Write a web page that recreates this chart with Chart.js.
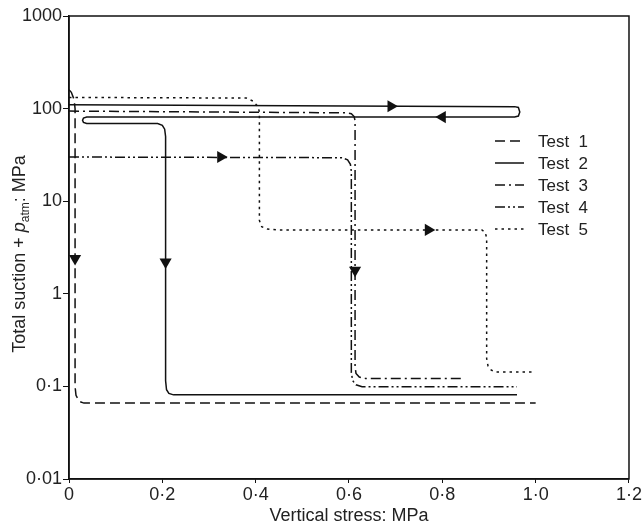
<!DOCTYPE html>
<html>
<head>
<meta charset="utf-8">
<script src="https://cdn.jsdelivr.net/npm/chart.js@4/dist/chart.umd.min.js"></script>
<style>
  body { margin: 0; background: #fff; }
</style>
</head>
<body>
<canvas id="suctionChart" width="643" height="528"></canvas>
<script>
// data
const seriesNames = ["Test  1", "Test  2", "Test  3", "Test  4", "Test  5"];

const t1X = [0, 0.005, 0.011, 0.013, 0.013, 0.015, 0.022, 0.032, 1.0];
const t1Y = [160, 150, 125, 100, 0.1, 0.08, 0.069, 0.066, 0.066];

const t2X = [0, 0.955, 0.963, 0.966, 0.963, 0.955, 0.038, 0.031, 0.029, 0.031, 0.038, 0.19, 0.2, 0.205, 0.207, 0.207, 0.209, 0.214, 0.224, 0.96];
const t2Y = [110, 105, 103, 92, 83, 81, 81, 79, 75, 71, 69, 69, 66, 60, 50, 0.115, 0.092, 0.084, 0.081, 0.081];

const t3X = [0, 0.595, 0.605, 0.611, 0.613, 0.613, 0.615, 0.622, 0.635, 0.84];
const t3Y = [94, 90, 88, 82, 74, 0.165, 0.138, 0.126, 0.122, 0.122];

const t4X = [0, 0.585, 0.597, 0.603, 0.605, 0.605, 0.608, 0.615, 0.628, 0.96];
const t4Y = [30, 29.5, 28, 25, 21, 0.14, 0.115, 0.104, 0.099, 0.099];

const t5X = [0, 0.38, 0.395, 0.405, 0.408, 0.408, 0.413, 0.425, 0.445, 0.885, 0.892, 0.895, 0.895, 0.898, 0.905, 0.915, 0.996];
const t5Y = [132, 130, 120, 105, 92, 6.2, 5.3, 5.0, 4.9, 4.9, 4.6, 4.0, 0.2, 0.165, 0.15, 0.143, 0.143];

// direction arrows on the paths (rotation: 90 right, 180 down, 270 left)
const arrowX = [0.013, 0.207, 0.69, 0.80, 0.613, 0.325, 0.77];
const arrowY = [2.4, 2.2, 106, 81, 1.8, 30, 4.9];
const arrowRot = [180, 180, 90, 270, 180, 90, 90];

const xTicks = [0, 0.2, 0.4, 0.6, 0.8, 1.0, 1.2];
const xTickLabels = ["0", "0·2", "0·4", "0·6", "0·8", "1·0", "1·2"];
const yTicks = [0.01, 0.1, 1, 10, 100, 1000];
const yTickLabels = ["0·01", "0·1", "1", "10", "100", "1000"];

const FONT = "'Liberation Sans', Arial, Helvetica, sans-serif";
Chart.defaults.font.family = FONT;
Chart.defaults.color = "#222";

function pts(xs, ys) {
    return xs.map((x, i) => ({ x: x, y: ys[i] }));
}

const dashes = [[10, 5], [], [10, 4, 2, 4], [10, 3, 2, 3, 2, 3], [2.5, 4]];
const series = [[t1X, t1Y], [t2X, t2Y], [t3X, t3Y], [t4X, t4Y], [t5X, t5Y]];

const datasets = series.map((s, i) => ({
    label: seriesNames[i],
    data: pts(s[0], s[1]),
    showLine: true,
    borderColor: "#111",
    borderWidth: 1.5,
    borderDash: dashes[i],
    pointRadius: 0,
    tension: 0
}));

datasets.push({
    label: "arrows",
    data: pts(arrowX, arrowY),
    showLine: false,
    pointStyle: "triangle",
    pointRotation: arrowRot,
    pointRadius: 7,
    backgroundColor: "#111",
    borderWidth: 0
});

// frame, legend and axis titles
const extras = {
    id: "extras",
    afterDraw(chart) {
        const ctx = chart.ctx;
        const a = chart.chartArea;
        ctx.save();
        ctx.strokeStyle = "#111";
        ctx.lineWidth = 1.5;
        ctx.strokeRect(a.left, a.top, a.right - a.left, a.bottom - a.top);

        // legend inside the plot
        ctx.font = "17px " + FONT;
        ctx.fillStyle = "#222";
        ctx.textBaseline = "middle";
        ctx.textAlign = "left";
        seriesNames.forEach((name, i) => {
            const y = 141 + i * 22;
            ctx.setLineDash(dashes[i]);
            ctx.lineWidth = 1.5;
            ctx.beginPath();
            ctx.moveTo(495, y);
            ctx.lineTo(524, y);
            ctx.stroke();
            ctx.setLineDash([]);
            ctx.fillText(name, 538, y + 1);
        });

        // x title
        ctx.font = "18px " + FONT;
        ctx.textAlign = "center";
        ctx.textBaseline = "alphabetic";
        ctx.fillText("Vertical stress: MPa", (a.left + a.right) / 2, 521);

        // y title with italic p and subscript atm
        const parts = [
            { t: "Total suction + ", f: "18px " + FONT, dy: 0 },
            { t: "p", f: "italic 18px " + FONT, dy: 0 },
            { t: "atm", f: "12px " + FONT, dy: 4 },
            { t: ": MPa", f: "18px " + FONT, dy: 0 }
        ];
        let w = 0;
        parts.forEach(p => { ctx.font = p.f; w += ctx.measureText(p.t).width; });
        ctx.translate(25, 254);
        ctx.rotate(-Math.PI / 2);
        ctx.textAlign = "left";
        let x = -w / 2;
        parts.forEach(p => {
            ctx.font = p.f;
            ctx.fillText(p.t, x, p.dy);
            x += ctx.measureText(p.t).width;
        });
        ctx.restore();
    }
};

new Chart(document.getElementById("suctionChart"), {
    type: "scatter",
    data: { datasets: datasets },
    options: {
        responsive: false,
        animation: false,
        devicePixelRatio: 1,
        layout: { padding: { top: 16, right: 12, left: 0, bottom: 0 } },
        plugins: {
            legend: { display: false },
            tooltip: { enabled: false }
        },
        scales: {
            x: {
                type: "linear",
                min: 0,
                max: 1.2,
                afterBuildTicks: scale => { scale.ticks = xTicks.map(v => ({ value: v })); },
                afterFit: scale => { scale.height = 49; },
                ticks: {
                    font: { size: 18 },
                    color: "#222",
                    padding: 1,
                    maxRotation: 0,
                    callback: (v, i) => xTickLabels[i]
                },
                grid: { drawOnChartArea: false, tickLength: 4, color: "#111", lineWidth: 1 },
                border: { display: true, color: "#111", width: 1.5 }
            },
            y: {
                type: "logarithmic",
                min: 0.01,
                max: 1000,
                afterBuildTicks: scale => { scale.ticks = yTicks.map(v => ({ value: v })); },
                afterFit: scale => { scale.width = 69; },
                ticks: {
                    font: { size: 18 },
                    color: "#222",
                    padding: 1,
                    callback: (v, i) => yTickLabels[i]
                },
                grid: { drawOnChartArea: false, tickLength: 6, color: "#111", lineWidth: 1 },
                border: { display: true, color: "#111", width: 1.5 }
            }
        }
    },
    plugins: [extras]
});
</script>
</body>
</html>
